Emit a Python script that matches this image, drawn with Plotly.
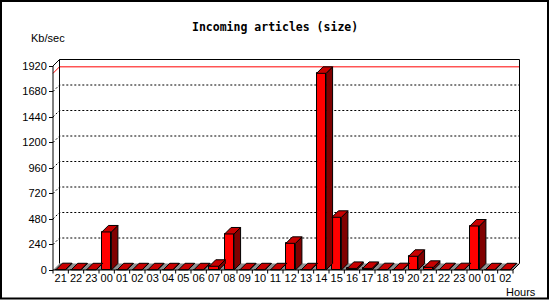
import plotly.graph_objects as go

# ---------------- data ----------------
hour_labels = ["21", "22", "23", "00", "01", "02", "03", "04", "05", "06",
               "07", "08", "09", "10", "11", "12", "13", "14", "15", "16",
               "17", "18", "19", "20", "21", "22", "23", "00", "01", "02"]
kb_per_sec = [3, 2, 2, 358, 2, 2, 2, 2, 2, 2,
              35, 339, 2, 2, 2, 251, 2, 1851, 496, 15,
              15, 3, 3, 129, 25, 3, 3, 414, 2, 2]
y_ticks = [0, 240, 480, 720, 960, 1200, 1440, 1680, 1920]
y_max_axis = 1920

# ---------------- geometry (pixels) ----------------
CW = 460 / 30          # px per category
K = 204 / 1920         # px per unit of Kb/sec
DXP, DYP = 6.5, 6.5    # 3D depth offset in px
L, R, T, B = 40, 540, 48, 285
X0PX, Y0PX = 53, 270   # front origin in px

dxu = DXP / CW
dyu = DYP / K
bw = 0.62
n = len(hour_labels)
idx = list(range(n))
x0, x1 = -0.5, n - 0.5

xr = [x0 - (X0PX - L) / CW, x0 + (R - X0PX) / CW]
yr = [-(B - Y0PX) / K, (Y0PX - T) / K]

FRONT = "#FF0000"
TOP = "#C80000"
SIDE = "#800000"
FLOOR = "#909090"

fig = go.Figure()

# front faces
fig.add_trace(go.Bar(x=idx, y=kb_per_sec, width=bw,
                     marker=dict(color=FRONT, line=dict(color="black", width=1)),
                     hoverinfo="skip"))

# top and side faces
tx, ty = [], []
sx, sy = [], []
for i, v in zip(idx, kb_per_sec):
    a, b = i - bw / 2, i + bw / 2
    tx += [a, b, b + dxu, a + dxu, a, None]
    ty += [v, v, v + dyu, v + dyu, v, None]
    sx += [b, b, b + dxu, b + dxu, b, None]
    sy += [0, v, v + dyu, dyu, 0, None]
fig.add_trace(go.Scatter(x=sx, y=sy, mode="lines", fill="toself", fillcolor=SIDE,
                         line=dict(color="black", width=1), hoverinfo="skip"))
fig.add_trace(go.Scatter(x=tx, y=ty, mode="lines", fill="toself", fillcolor=TOP,
                         line=dict(color="black", width=1), hoverinfo="skip"))

shapes = []
# floor
shapes.append(dict(type="path", xref="x", yref="y", layer="below",
                   path=f"M{x0},0 L{x1},0 L{x1+dxu},{dyu} L{x0+dxu},{dyu} Z",
                   fillcolor=FLOOR, line=dict(width=0)))
# grid lines (dotted) on back wall
for v in y_ticks[1:-1]:
    shapes.append(dict(type="path", xref="x", yref="y", layer="below",
                       path=f"M{x0},{v} L{x0+dxu},{v+dyu} L{x1+dxu},{v+dyu}",
                       line=dict(color="black", width=1, dash="2px,2px")))
# max line
vmax = max(kb_per_sec)
shapes.append(dict(type="path", xref="x", yref="y", layer="below",
                   path=f"M{x0},{vmax} L{x0+dxu},{vmax+dyu} L{x1+dxu},{vmax+dyu}",
                   line=dict(color="red", width=1)))
# back wall frame
shapes.append(dict(type="path", xref="x", yref="y", layer="below",
                   path=(f"M{x0+dxu},{dyu} L{x0+dxu},{y_max_axis+dyu} "
                         f"L{x1+dxu},{y_max_axis+dyu} L{x1+dxu},{dyu}"),
                   line=dict(color="black", width=1)))
# front axes
shapes.append(dict(type="path", xref="x", yref="y", layer="above",
                   path=f"M{x0+dxu},{y_max_axis+dyu} L{x0},{y_max_axis} L{x0},0 L{x1},0 L{x1+dxu},{dyu}",
                   line=dict(color="black", width=1)))
# x tick marks at category boundaries
tick_len_u = 3.5 / K
tick_path = " ".join(f"M{i - 0.5},0 L{i - 0.5},{-tick_len_u}" for i in range(n + 1))
shapes.append(dict(type="path", xref="x", yref="y", layer="above",
                   path=tick_path, line=dict(color="black", width=1)))
# image border
W, H = R - L, B - T
shapes.append(dict(type="rect", xref="paper", yref="paper",
                   x0=(1 - L) / W, x1=(548 - L) / W,
                   y0=(B - 298.5) / H, y1=(B - 1) / H,
                   line=dict(color="black", width=2)))

font = "Liberation Sans"
annotations = [
    dict(text="<b>Incoming articles (size)</b>", xref="paper", yref="paper",
         x=(275 - L) / W, y=(B - 27) / H, xanchor="center", yanchor="middle",
         showarrow=False, font=dict(family="DejaVu Sans Mono", size=11.5, color="black")),
    dict(text="Kb/sec", xref="paper", yref="paper",
         x=(29 - L) / W, y=(B - 38) / H, xanchor="left", yanchor="middle",
         showarrow=False, font=dict(family=font, size=11, color="black")),
    dict(text="Hours", xref="paper", yref="paper",
         x=(504 - L) / W, y=(B - 291.5) / H, xanchor="left", yanchor="middle",
         showarrow=False, font=dict(family=font, size=11, color="black")),
]

fig.update_layout(
    width=550, height=300,
    margin=dict(l=L, r=550 - R, t=T, b=300 - B, pad=0),
    paper_bgcolor="white", plot_bgcolor="white",
    showlegend=False, bargap=0,
    shapes=shapes, annotations=annotations,
    xaxis=dict(range=xr, anchor="free", position=(B - Y0PX) / H,
               tickmode="array", tickvals=idx, ticktext=hour_labels,
               ticks="", showline=False, showgrid=False, zeroline=False,
               tickfont=dict(family=font, size=11, color="black")),
    yaxis=dict(range=yr, anchor="free", position=(X0PX - L) / W,
               tickmode="array", tickvals=y_ticks,
               ticks="outside", ticklen=4, tickcolor="black", tickwidth=1,
               showline=False, showgrid=False, zeroline=False,
               tickfont=dict(family=font, size=11, color="black")),
)

fig.write_html("out.html")
